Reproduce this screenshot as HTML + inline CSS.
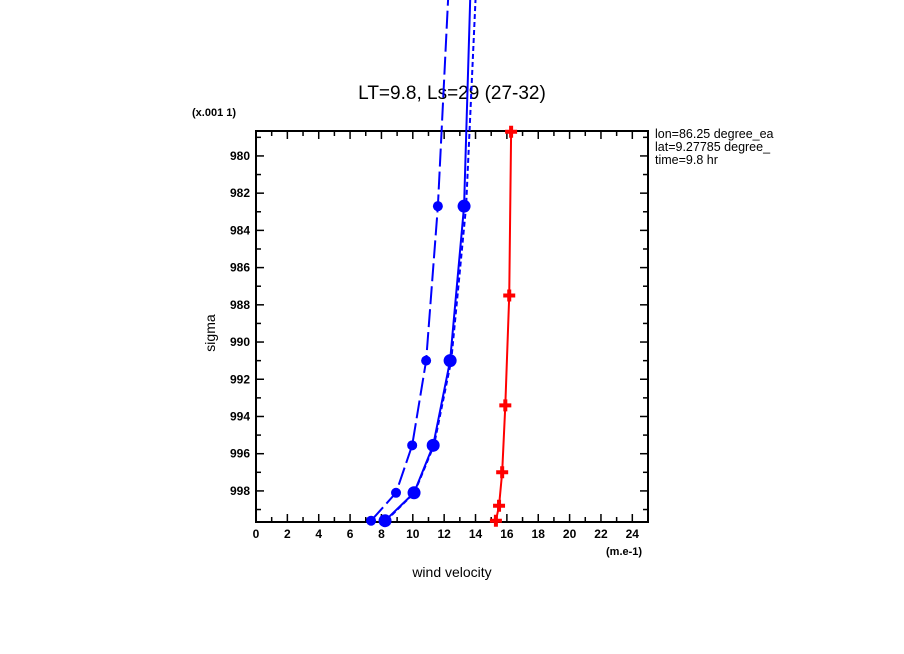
<!DOCTYPE html>
<html><head><meta charset="utf-8"><style>
body{margin:0;background:#fff}
svg{display:block;font-family:"Liberation Sans",sans-serif}
</style></head><body>
<svg id="c" width="904" height="654">
<text x="452" y="99" font-size="19" text-anchor="middle">LT=9.8, Ls=29 (27-32)</text>
<text x="192" y="116" font-size="11" font-weight="bold">(x.001 1)</text>
<text x="215" y="333" font-size="14" text-anchor="middle" transform="rotate(-90 215 333)">sigma</text>
<text x="452" y="577" font-size="14" text-anchor="middle">wind velocity</text>
<text x="606" y="555" font-size="11" font-weight="bold">(m.e-1)</text>
<g font-size="12.5">
<text x="655" y="138">lon=86.25 degree_ea</text>
<text x="655" y="151">lat=9.27785 degree_</text>
<text x="655" y="164">time=9.8 hr</text>
</g>
<rect x="780" y="125" width="124" height="45" fill="#fff"/>
<g id="axes"></g>
<g id="series"></g>
</svg>
<script>
const xTicks=[0,2,4,6,8,10,12,14,16,18,20,22,24];
const yTicks=[980,982,984,986,988,990,992,994,996,998];
const sigLong=[999.6,998.1,995.55,991,982.7,971.6];
const valLong=[7.34,8.93,9.96,10.85,11.6,12.25];
const sigSolid=[999.6,998.1,995.55,991,982.7,971.6];
const valSolid=[8.23,10.08,11.3,12.38,13.27,13.66];
const sigShort=[999.6,998.1,995.55,991,982.7,971.6];
const valShort=[8.3,10.1,11.35,12.45,13.4,14.0];
const sigRed=[999.6,998.8,997,993.4,987.5,978.7];
const valRed=[15.3,15.5,15.7,15.9,16.15,16.27];
const L=256,R=648,T=131,B=522,X0=0,X1=25,Y0=978.66,Y1=999.67;
const sx=v=>L+(v-X0)/(X1-X0)*(R-L);
const sy=v=>T+(v-Y0)/(Y1-Y0)*(B-T);
const NS="http://www.w3.org/2000/svg";
function mk(t,a,p){const e=document.createElementNS(NS,t);for(const k in a)e.setAttribute(k,a[k]);p.appendChild(e);return e;}
const ax=document.getElementById('axes');
const frame=mk('rect',{x:L,y:T,width:R-L,height:B-T,fill:'none',stroke:'#000','stroke-width':2},ax);


for(let v=0;v<=25;v++){const x=sx(v),len=v%2==0?8:5;
mk('line',{x1:x,y1:B,x2:x,y2:B-len,stroke:'#000','stroke-width':1.5},ax);
mk('line',{x1:x,y1:T,x2:x,y2:T+len,stroke:'#000','stroke-width':1.5},ax);}
xTicks.forEach(v=>{const t=mk('text',{x:sx(v),y:B+16,'font-size':12,'font-weight':'bold','text-anchor':'middle'},ax);t.textContent=v;

});
for(let v=979;v<=999;v++){const y=sy(v),len=v%2==0?8:5;
mk('line',{x1:L,y1:y,x2:L+len,y2:y,stroke:'#000','stroke-width':1.5},ax);
mk('line',{x1:R,y1:y,x2:R-len,y2:y,stroke:'#000','stroke-width':1.5},ax);}
yTicks.forEach(v=>{const t=mk('text',{x:L-6,y:sy(v)+4,'font-size':12,'font-weight':'bold','text-anchor':'end'},ax);t.textContent=v;

});
const sg=document.getElementById('series');
function line(sig,val,color,dash,name,mr,cross){
const pts=sig.map((s,i)=>sx(val[i])+','+sy(s)).join(' ');
const pl=mk('polyline',{points:pts,fill:'none',stroke:color,'stroke-width':2,'stroke-dasharray':dash},sg);


if(mr>0)sig.forEach((s,i)=>{if(s<Y0)return;const x=sx(val[i]),y=sy(s);
const m=cross?mk('path',{d:`M${x-mr},${y}h${2*mr}M${x},${y-mr}v${2*mr}`,stroke:color,'stroke-width':4},sg):mk('circle',{cx:x,cy:y,r:mr,fill:color},sg);

});}
line(sigShort,valShort,'#0000ff','5 3','series-short-dash',0,false);
line(sigLong,valLong,'#0000ff','18 5','series-long-dash',5,false);
line(sigSolid,valSolid,'#0000ff','none','series-solid',6.5,false);
line(sigRed,valRed,'#ff0000','none','series-red',6,true);
</script>
</body></html>
